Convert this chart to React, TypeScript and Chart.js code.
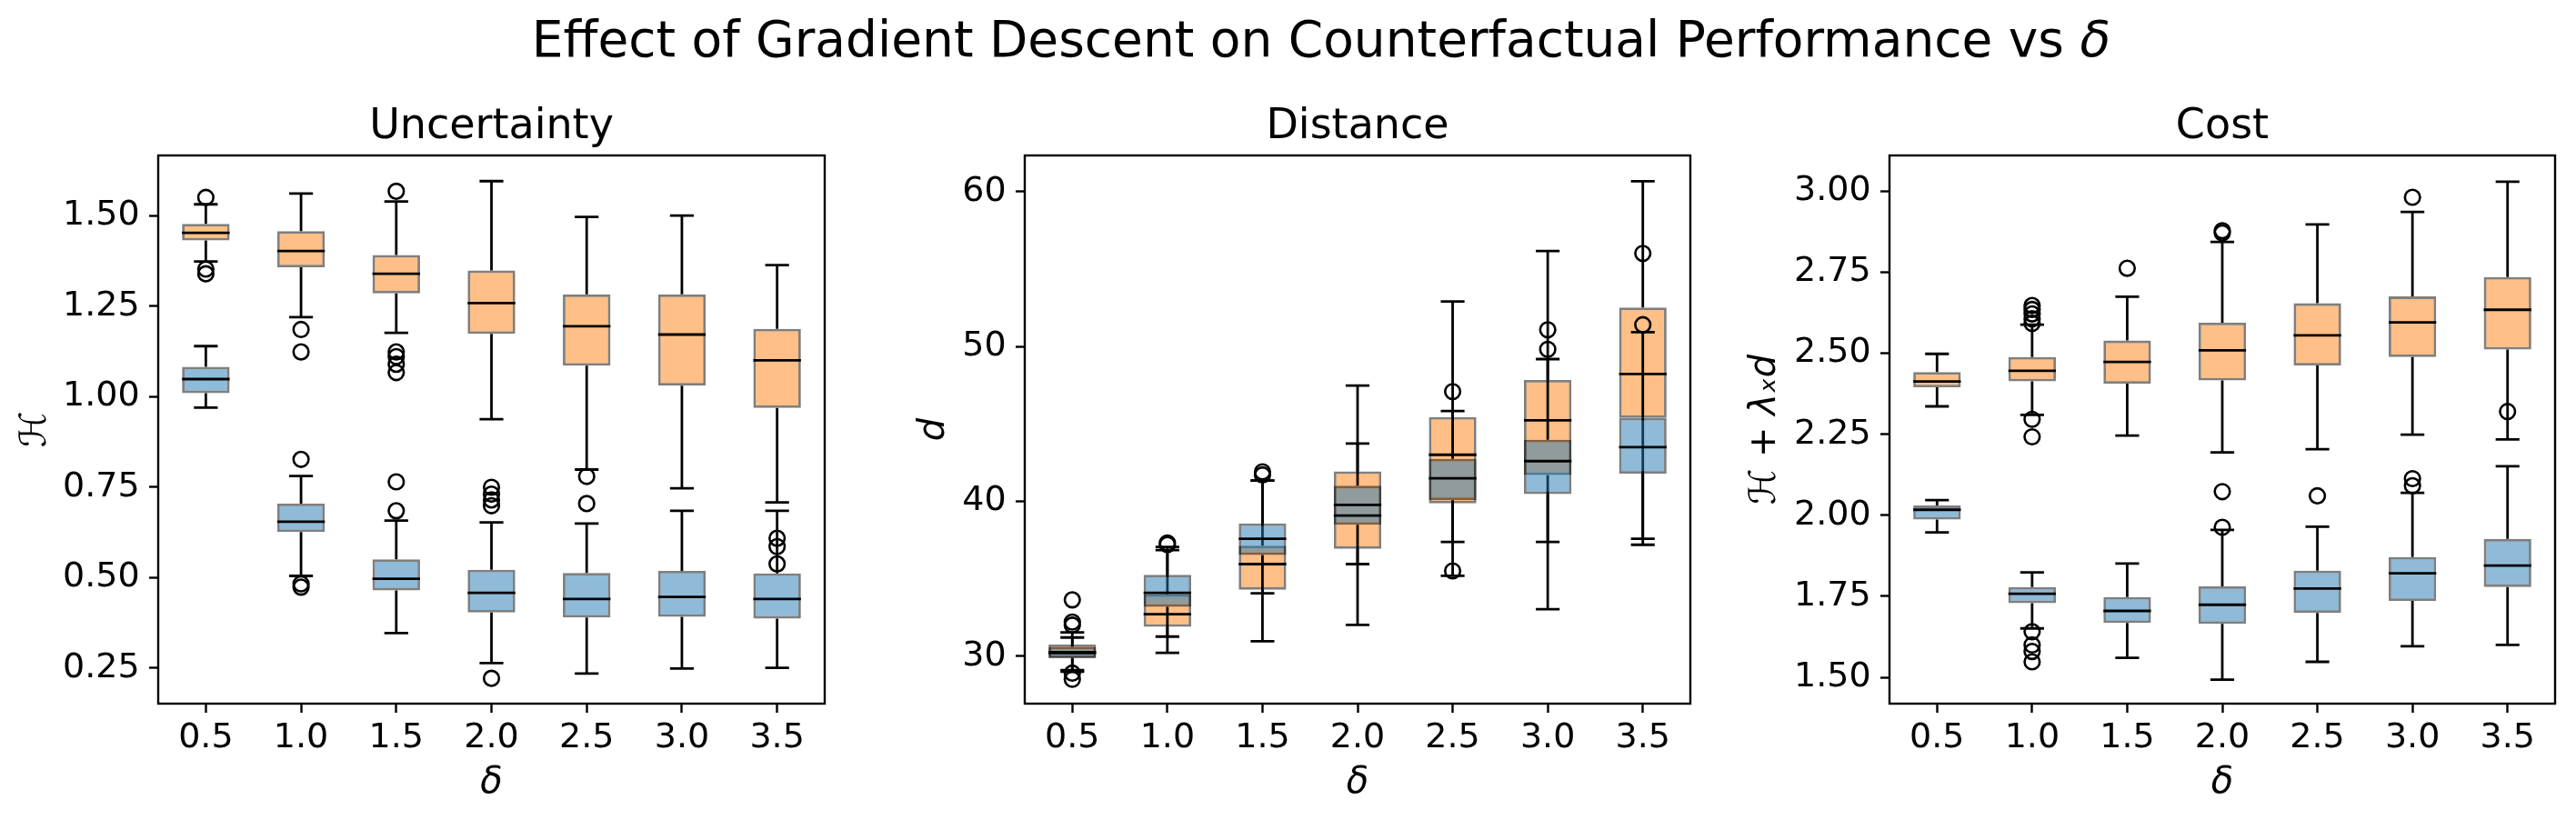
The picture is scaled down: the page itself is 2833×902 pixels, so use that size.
import React, { useEffect, useRef } from 'react';
import { Chart, registerables } from 'chart.js';

Chart.register(...registerables);

// ---------------- data ----------------
const deltaLabels = ['0.5', '1.0', '1.5', '2.0', '2.5', '3.0', '3.5'];

// each row: [lower whisker, Q1, median, Q3, upper whisker] for one δ
const uncertaintyOrange = [
  [1.374, 1.432, 1.453, 1.478, 1.532],
  [1.220, 1.358, 1.403, 1.458, 1.562],
  [1.177, 1.286, 1.340, 1.392, 1.540],
  [0.938, 1.174, 1.259, 1.349, 1.596],
  [0.799, 1.086, 1.195, 1.283, 1.497],
  [0.747, 1.031, 1.172, 1.283, 1.501],
  [0.708, 0.969, 1.101, 1.188, 1.364],
];
const uncertaintyBlue = [
  [0.970, 1.010, 1.049, 1.083, 1.140],
  [0.505, 0.626, 0.655, 0.705, 0.781],
  [0.347, 0.465, 0.497, 0.551, 0.658],
  [0.264, 0.404, 0.458, 0.522, 0.653],
  [0.235, 0.390, 0.441, 0.513, 0.650],
  [0.249, 0.392, 0.447, 0.519, 0.685],
  [0.251, 0.387, 0.441, 0.512, 0.685],
];
const uncertaintyOrangeFliers: [string, number][] = [
  ['0.5', 1.551], ['0.5', 1.353], ['0.5', 1.340],
  ['1.0', 1.186], ['1.0', 1.124],
  ['1.5', 1.568], ['1.5', 1.124], ['1.5', 1.111], ['1.5', 1.090], ['1.5', 1.067],
  ['2.5', 0.780], ['2.5', 0.705],
];
const uncertaintyBlueFliers: [string, number][] = [
  ['1.0', 0.827], ['1.0', 0.483], ['1.0', 0.474],
  ['1.5', 0.765], ['1.5', 0.685],
  ['2.0', 0.750], ['2.0', 0.731], ['2.0', 0.715], ['2.0', 0.699], ['2.0', 0.222],
  ['3.5', 0.609], ['3.5', 0.586], ['3.5', 0.538],
];
const uncertaintyTicks = [0.25, 0.5, 0.75, 1.0, 1.25, 1.5];

const distanceOrange = [
  [29.10, 29.90, 30.20, 30.75, 31.20],
  [30.21, 31.89, 32.70, 33.99, 36.84],
  [30.96, 34.29, 35.94, 37.13, 41.33],
  [32.01, 36.93, 39.77, 41.93, 47.47],
  [35.19, 39.86, 43.00, 45.44, 52.90],
  [33.03, 41.69, 45.23, 47.83, 56.16],
  [37.19, 45.38, 48.22, 52.51, 60.66],
];
const distanceBlue = [
  [29.00, 29.85, 30.25, 30.60, 31.53],
  [31.26, 33.18, 34.08, 35.25, 37.05],
  [34.05, 36.53, 37.58, 38.57, 41.33],
  [35.94, 38.48, 39.08, 41.00, 43.73],
  [37.37, 40.07, 41.48, 42.74, 45.83],
  [37.37, 40.46, 42.59, 43.97, 49.18],
  [37.58, 41.78, 43.49, 45.38, 50.92],
];
const distanceOrangeFliers: [string, number][] = [
  ['0.5', 32.0], ['0.5', 28.9],
  ['1.0', 37.3], ['1.0', 37.2],
];
const distanceBlueFliers: [string, number][] = [
  ['0.5', 33.63], ['0.5', 32.2], ['0.5', 28.5],
  ['1.5', 41.9], ['1.5', 41.7],
  ['2.5', 47.08], ['2.5', 35.5],
  ['3.0', 51.07], ['3.0', 49.81],
  ['3.5', 56.0], ['3.5', 51.4],
];
const distanceTicks = [30, 40, 50, 60];

const costOrange = [
  [2.336, 2.395, 2.413, 2.442, 2.498],
  [2.310, 2.413, 2.446, 2.488, 2.588],
  [2.246, 2.406, 2.473, 2.539, 2.674],
  [2.194, 2.416, 2.509, 2.594, 2.843],
  [2.204, 2.462, 2.555, 2.654, 2.897],
  [2.249, 2.488, 2.595, 2.675, 2.936],
  [2.234, 2.511, 2.634, 2.735, 3.029],
];
const costBlue = [
  [1.947, 1.987, 2.017, 2.030, 2.047],
  [1.651, 1.729, 1.758, 1.779, 1.824],
  [1.560, 1.668, 1.705, 1.748, 1.851],
  [1.493, 1.665, 1.724, 1.781, 1.955],
  [1.548, 1.699, 1.774, 1.829, 1.965],
  [1.596, 1.736, 1.821, 1.871, 2.069],
  [1.600, 1.779, 1.845, 1.927, 2.151],
];
const costOrangeFliers: [string, number][] = [
  ['1.0', 2.647], ['1.0', 2.635], ['1.0', 2.621], ['1.0', 2.606], ['1.0', 2.592],
  ['1.0', 2.296], ['1.0', 2.242],
  ['1.5', 2.762],
  ['2.0', 2.878], ['2.0', 2.871],
  ['3.0', 2.981],
  ['3.5', 2.320],
];
const costBlueFliers: [string, number][] = [
  ['1.0', 1.641], ['1.0', 1.600], ['1.0', 1.580], ['1.0', 1.548],
  ['2.0', 2.073], ['2.0', 1.963],
  ['2.5', 2.060],
  ['3.0', 2.113], ['3.0', 2.091],
];
const costTicks = [1.5, 1.75, 2.0, 2.25, 2.5, 2.75, 3.0];

// ---------------- layout / style ----------------
const FONT = "'DejaVu Sans', sans-serif";
const W = 2833;
const H = 902;
const FRAME_TOP = 171;
const FRAME_BOTTOM = 774;
const LINE_W = 2.8;
const ORANGE_FILL = 'rgba(255,127,14,0.5)';
const BLUE_FILL = 'rgba(31,119,180,0.5)';

type Panel = {
  title: string;
  yTitle: string;
  yItalic: boolean;
  ticks: number[];
  decimals: number;
  yMin: number;
  yMax: number;
  orange: number[][];
  blue: number[][];
  orangeFliers: [string, number][];
  blueFliers: [string, number][];
  canvasLeft: number;
  canvasWidth: number;
  frameLeft: number;
  frameRight: number;
  yTitlePad: number;
};

const panels: Panel[] = [
  {
    title: 'Uncertainty', yTitle: 'ℋ', yItalic: false, ticks: uncertaintyTicks, decimals: 2,
    yMin: 0.152, yMax: 1.667, orange: uncertaintyOrange, blue: uncertaintyBlue,
    orangeFliers: uncertaintyOrangeFliers, blueFliers: uncertaintyBlueFliers,
    canvasLeft: 0, canvasWidth: 950, frameLeft: 174, frameRight: 907, yTitlePad: 16,
  },
  {
    title: 'Distance', yTitle: 'd', yItalic: true, ticks: distanceTicks, decimals: 0,
    yMin: 26.93, yMax: 62.33, orange: distanceOrange, blue: distanceBlue,
    orangeFliers: distanceOrangeFliers, blueFliers: distanceBlueFliers,
    canvasLeft: 955, canvasWidth: 925, frameLeft: 1127, frameRight: 1859, yTitlePad: 49,
  },
  {
    title: 'Cost', yTitle: 'ℋ + λₓd', yItalic: true, ticks: costTicks, decimals: 2,
    yMin: 1.419, yMax: 3.110, orange: costOrange, blue: costBlue,
    orangeFliers: costOrangeFliers, blueFliers: costBlueFliers,
    canvasLeft: 1880, canvasWidth: 953, frameLeft: 2078, frameRight: 2810, yTitlePad: 38,
  },
];

function buildChart(canvas: HTMLCanvasElement, p: Panel): Chart {
  const padRight = p.canvasWidth - (p.frameRight - p.canvasLeft);
  const yAxisWidth = p.frameLeft - p.canvasLeft;
  const seriesStats: Record<number, number[][]> = { 0: p.orange, 2: p.blue };

  const boxPlugin = {
    id: 'boxplotLines',
    afterDatasetDraw(chart: any, args: any) {
      const stats = seriesStats[args.index];
      if (!stats) return;
      const xs = chart.scales.x;
      const ys = chart.scales.y;
      const cat = xs.getPixelForValue(1) - xs.getPixelForValue(0);
      const capHalf = cat * 0.125;
      const ctx = chart.ctx;
      ctx.save();
      ctx.strokeStyle = '#000';
      ctx.lineWidth = LINE_W;
      stats.forEach((r, i) => {
        const x = xs.getPixelForValue(i);
        const lo = ys.getPixelForValue(r[0]);
        const q1 = ys.getPixelForValue(r[1]);
        const q3 = ys.getPixelForValue(r[3]);
        const hi = ys.getPixelForValue(r[4]);
        ctx.beginPath();
        ctx.moveTo(x, q1); ctx.lineTo(x, lo);
        ctx.moveTo(x, q3); ctx.lineTo(x, hi);
        ctx.moveTo(x - capHalf, lo); ctx.lineTo(x + capHalf, lo);
        ctx.moveTo(x - capHalf, hi); ctx.lineTo(x + capHalf, hi);
        ctx.stroke();
      });
      ctx.restore();
    },
    afterDatasetsDraw(chart: any) {
      const xs = chart.scales.x;
      const ys = chart.scales.y;
      const cat = xs.getPixelForValue(1) - xs.getPixelForValue(0);
      const half = cat * 0.25;
      const ctx = chart.ctx;
      ctx.save();
      ctx.strokeStyle = '#000';
      ctx.lineWidth = LINE_W;
      [p.orange, p.blue].forEach((stats) => {
        stats.forEach((r, i) => {
          const x = xs.getPixelForValue(i);
          const m = ys.getPixelForValue(r[2]);
          ctx.beginPath();
          ctx.moveTo(x - half, m);
          ctx.lineTo(x + half, m);
          ctx.stroke();
        });
      });
      const a = chart.chartArea;
      ctx.lineWidth = 2.4;
      ctx.strokeRect(a.left, a.top, a.right - a.left, a.bottom - a.top);
      ctx.restore();
    },
  };

  const flierStyle = {
    type: 'scatter' as const,
    pointRadius: 8.3,
    pointBorderWidth: 2.6,
    pointBorderColor: '#000',
    pointBackgroundColor: 'rgba(0,0,0,0)',
    pointHoverRadius: 8.3,
  };
  const barStyle = {
    type: 'bar' as const,
    borderColor: 'rgba(0,0,0,0.5)',
    borderWidth: LINE_W,
    borderSkipped: false,
    grouped: false,
    barPercentage: 0.5,
    categoryPercentage: 1,
  };

  const gridOpts = {
    display: true,
    drawOnChartArea: false,
    drawTicks: true,
    tickLength: 10,
    tickWidth: 2.4,
    tickColor: '#000',
    color: '#000',
  };

  return new Chart(canvas, {
    type: 'bar',
    data: {
      labels: deltaLabels,
      datasets: [
        { ...barStyle, label: 'orange', data: p.orange.map((r) => [r[1], r[3]]), backgroundColor: ORANGE_FILL, order: 4 } as any,
        { ...flierStyle, label: 'orange fliers', data: p.orangeFliers.map(([x, y]) => ({ x, y })), order: 3 } as any,
        { ...barStyle, label: 'blue', data: p.blue.map((r) => [r[1], r[3]]), backgroundColor: BLUE_FILL, order: 2 } as any,
        { ...flierStyle, label: 'blue fliers', data: p.blueFliers.map(([x, y]) => ({ x, y })), order: 1 } as any,
      ],
    },
    options: {
      responsive: false,
      devicePixelRatio: 1,
      animation: false,
      events: [],
      layout: { padding: { left: 0, right: padRight, top: 0, bottom: 0 } },
      plugins: {
        legend: { display: false },
        tooltip: { enabled: false },
        title: {
          display: true,
          text: p.title,
          fullSize: false,
          color: '#000',
          font: { family: FONT, size: 46, weight: 'normal', lineHeight: 1.2 },
          padding: { top: 112.4, bottom: FRAME_TOP - 112.4 - 55.2 },
        },
      },
      scales: {
        x: {
          type: 'category',
          offset: true,
          grid: { ...gridOpts, offset: false },
          border: { display: false },
          ticks: {
            color: '#000',
            font: { family: FONT, size: 38 },
            padding: 5,
            autoSkip: false,
            maxRotation: 0,
          },
          title: {
            display: true,
            text: 'δ',
            color: '#000',
            font: { family: FONT, size: 40, style: 'italic', lineHeight: 1.2 },
            padding: { top: 0, bottom: 16.7 },
          },
          afterFit: (s: any) => { s.height = H - FRAME_BOTTOM; },
        },
        y: {
          type: 'linear',
          min: p.yMin,
          max: p.yMax,
          afterBuildTicks: (s: any) => { s.ticks = p.ticks.map((v) => ({ value: v })); },
          grid: gridOpts,
          border: { display: false },
          ticks: {
            color: '#000',
            font: { family: FONT, size: 38 },
            padding: 10.4,
            callback: (v: any) => Number(v).toFixed(p.decimals),
          },
          title: {
            display: true,
            text: p.yTitle,
            color: '#000',
            font: { family: FONT, size: 40, style: p.yItalic ? 'italic' : 'normal', lineHeight: 1.2 },
            padding: { top: p.yTitlePad, bottom: 0 },
          },
          afterFit: (s: any) => { s.width = yAxisWidth; },
        },
      },
    } as any,
    plugins: [boxPlugin],
  });
}

export default function App() {
  const r0 = useRef<HTMLCanvasElement>(null);
  const r1 = useRef<HTMLCanvasElement>(null);
  const r2 = useRef<HTMLCanvasElement>(null);
  const refs = [r0, r1, r2];

  useEffect(() => {
    const charts = panels.map((p, i) => buildChart(refs[i].current as HTMLCanvasElement, p));
    return () => charts.forEach((c) => c.destroy());
  }, []);

  return (
    <div style={{ position: 'absolute', left: 0, top: 0, width: W, height: H, overflow: 'hidden', background: '#fff' }}>
      <div
        style={{
          position: 'absolute', left: -47, top: 15.5, width: 3000, textAlign: 'center',
          fontFamily: FONT, fontSize: 55, lineHeight: '55px', color: '#000', whiteSpace: 'nowrap',
        }}
      >
        Effect of Gradient Descent on Counterfactual Performance vs <span style={{ fontStyle: 'italic' }}>δ</span>
      </div>
      {panels.map((p, i) => (
        <canvas
          key={i}
          ref={refs[i]}
          width={p.canvasWidth}
          height={H}
          style={{ position: 'absolute', left: p.canvasLeft, top: 0, width: p.canvasWidth, height: H }}
        />
      ))}
    </div>
  );
}
